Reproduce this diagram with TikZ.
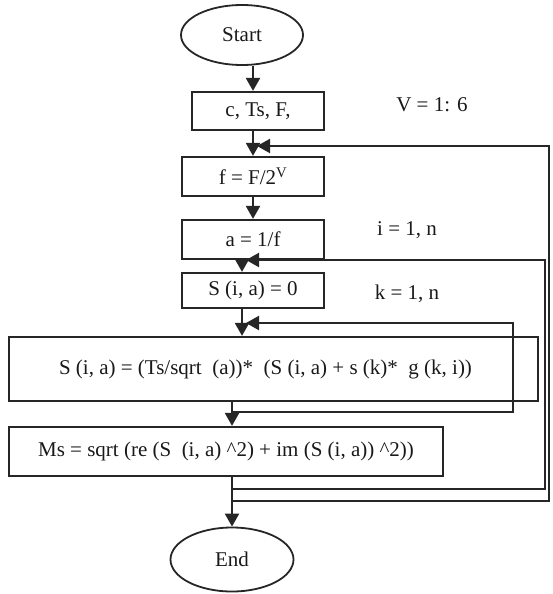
\documentclass[tikz,border=0pt]{standalone}
\usepackage{fontspec}
\setmainfont{Liberation Serif}
\usetikzlibrary{arrows.meta,shapes.geometric}
\begin{document}
\begin{tikzpicture}[x=1pt,y=-1pt,
  every node/.style={font=\fontsize{21}{24}\selectfont, text=black!90},
  box/.style={draw=black!85, line width=2.2pt, inner sep=0pt},
  term/.style={ellipse, draw=black!85, line width=1.8pt, inner sep=0pt},
  flow/.style={draw=black!85, line width=2.2pt},
  arr/.style={flow, -{Triangle[length=13pt,width=14pt]}},
  lbl/.style={inner sep=0pt}]
\useasboundingbox (0,0) rectangle (552,594);

% terminals and process boxes
\node[term, minimum width=122, minimum height=60] (start) at (242,35) {Start};
\node[box, minimum width=132, minimum height=38] (b1) at (258,111) {c, Ts, F,};
\node[box, minimum width=142, minimum height=39] (b2) at (253,176.5) {f = F/2\textsuperscript{V}};
\node[box, minimum width=142, minimum height=39] (b3) at (253,239.5) {a = 1/f};
\node[box, minimum width=142, minimum height=35] (b4) at (253,290.5) {S (i, a) = 0};
\node[box, minimum width=529, minimum height=64] (b5) at (273.5,369) {S (i, a) = (Ts/sqrt\ \ (a))* \ (S (i, a) + s (k)* \ g (k, i))\hspace*{16pt}};
\node[box, minimum width=434, minimum height=49] (b6) at (226,451.5) {Ms = sqrt (re (S \ (i, a) \textasciicircum2) + im (S (i, a)) \textasciicircum2))};
\node[term, minimum width=123, minimum height=64] (end) at (232,559.5) {End};

% loop ranges
\node[lbl] (lv) at (432,105) {V = 1: 6};
\node[lbl] (li) at (407,230) {i = 1, n};
\node[lbl] (lk) at (407,294) {k = 1, n};

% trunk lines and loop corners
\coordinate (t1) at (253,0);
\coordinate (t2) at (242,0);
\coordinate (t3) at (232,0);
\coordinate (vtop) at (549,146);
\coordinate (vbot) at (549,501);
\coordinate (itop) at (545,260);
\coordinate (ibot) at (545,489);
\coordinate (ktop) at (513,323);
\coordinate (kbot) at (513,412);
\coordinate (vtip) at (257,146);
\coordinate (itip) at (246,260);
\coordinate (ktip) at (246,323);

% main flow
\draw[arr] (t1 |- start.south) -- (t1 |- b1.north);
\draw[arr] (t1 |- b1.south) -- (t1 |- b2.north);
\draw[arr] (t1 |- b2.south) -- (t1 |- b3.north);
\draw[arr] (t2 |- b3.south) -- (t2 |- b4.north);
\draw[arr] (t2 |- b4.south) -- (t2 |- b5.north);
\draw[arr] (t3 |- b5.south) -- (t3 |- b6.north);
\draw[arr] (t3 |- b6.south) -- (t3 |- end.north);

% loop returns
\draw[arr] (t3 |- kbot) -- (kbot) -- (ktop) -- (ktip);
\draw[arr] (t3 |- ibot) -- (ibot) -- (itop) -- (itip);
\draw[arr] (t3 |- vbot) -- (vbot) -- (vtop) -- (vtip);
\end{tikzpicture}
\end{document}
